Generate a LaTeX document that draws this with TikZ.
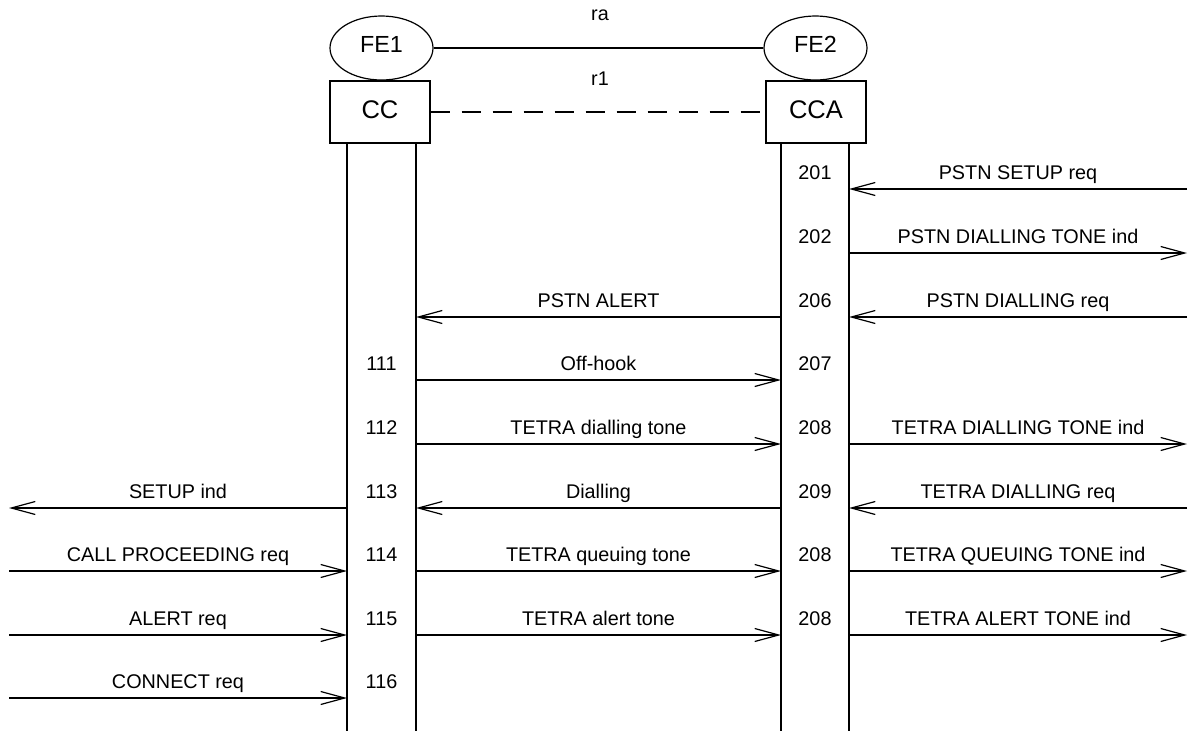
\documentclass[tikz,border=0pt]{standalone}
\usepackage{fontspec}
\setmainfont{Liberation Sans}
\usetikzlibrary{arrows.meta,shapes.geometric}
\begin{document}
\begin{tikzpicture}[x=1pt,y=-1pt,
  line width=1.2pt,
  msg/.style={line width=1.2pt,-{Straight Barb[length=24pt,width=13pt,line width=1.2pt]}},
  lbl/.style={font=\fontsize{19.8}{22}\selectfont, inner sep=0pt, anchor=base},
  fe/.style={draw,ellipse,minimum width=103pt,minimum height=64pt,inner sep=0pt,
     font=\fontsize{23.3}{26}\selectfont,text height=16.6pt,text depth=7.4pt},
  ent/.style={draw,rectangle,minimum width=100pt,minimum height=62pt,inner sep=0pt,
     font=\fontsize{25.5}{28}\selectfont,text height=18.3pt,text depth=5.1pt},
  life/.style={line width=1.2pt},
  rel/.style={line width=1.2pt}]
\useasboundingbox (0,0) rectangle (1195,731);

% entities
\node[fe] (fe1) at (381.5,48) {FE1};
\node[fe] (fe2) at (815.5,48) {FE2};
\node[ent] (cc) at (380,112) {CC};
\node[ent] (cca) at (816,112) {CCA};

\draw[rel] (fe1.east) -- (fe2.west);
\draw[rel,dash pattern=on 19pt off 12pt] (cc.east) -- (cca.west);
\node[lbl] (ra) at (600,20.7) {ra};
\node[lbl] (r1) at (600,85) {r1};

% lifelines
\coordinate (a1) at (347,143);
\coordinate (a2) at (416,143);
\coordinate (b1) at (781,143);
\coordinate (b2) at (849,143);
\coordinate (el) at (9,0);
\coordinate (er) at (1187,0);
\coordinate (bot) at (0,731);
\foreach \l in {a1,a2,b1,b2} \draw[life] (\l) -- (\l |- bot);

% rows
\coordinate (r0) at (0,189);
\coordinate (r1y) at (0,253);
\coordinate (r2) at (0,317);
\coordinate (r3) at (0,380);
\coordinate (r4) at (0,444);
\coordinate (r5) at (0,508);
\coordinate (r6) at (0,571);
\coordinate (r7) at (0,635);
\coordinate (r8) at (0,698);

% row 0
\draw[msg] (er |- r0) -- (b2 |- r0);
\node[lbl] (n201) at (815,179.5) {201};
\node[lbl] (m201) at (1018,179.5) {PSTN SETUP req};
% row 1
\draw[msg] (b2 |- r1y) -- (er |- r1y);
\node[lbl] (n202) at (815,243.5) {202};
\node[lbl] (m202) at (1018,243.5) {PSTN DIALLING TONE ind};
% row 2
\draw[msg] (er |- r2) -- (b2 |- r2);
\draw[msg] (b1 |- r2) -- (a2 |- r2);
\node[lbl] (n206) at (815,307.5) {206};
\node[lbl] (m206) at (1018,307.5) {PSTN DIALLING req};
\node[lbl] (malert) at (598.5,307.5) {PSTN ALERT};
% row 3
\draw[msg] (a2 |- r3) -- (b1 |- r3);
\node[lbl] (n111) at (381.5,370.5) {111};
\node[lbl] (n207) at (815,370.5) {207};
\node[lbl] (moff) at (598.5,370.5) {Off-hook};
% row 4
\draw[msg] (a2 |- r4) -- (b1 |- r4);
\draw[msg] (b2 |- r4) -- (er |- r4);
\node[lbl] (n112) at (381.5,434.5) {112};
\node[lbl] (n208a) at (815,434.5) {208};
\node[lbl] (mtdt) at (598.5,434.5) {TETRA dialling tone};
\node[lbl] (mtdti) at (1018,434.5) {TETRA DIALLING TONE ind};
% row 5
\draw[msg] (a1 |- r5) -- (el |- r5);
\draw[msg] (b1 |- r5) -- (a2 |- r5);
\draw[msg] (er |- r5) -- (b2 |- r5);
\node[lbl] (n113) at (381.5,498.5) {113};
\node[lbl] (n209) at (815,498.5) {209};
\node[lbl] (msetup) at (178,498.5) {SETUP ind};
\node[lbl] (mdial) at (598.5,498.5) {Dialling};
\node[lbl] (mtdr) at (1018,498.5) {TETRA DIALLING req};
% row 6
\draw[msg] (el |- r6) -- (a1 |- r6);
\draw[msg] (a2 |- r6) -- (b1 |- r6);
\draw[msg] (b2 |- r6) -- (er |- r6);
\node[lbl] (n114) at (381.5,561.5) {114};
\node[lbl] (n208b) at (815,561.5) {208};
\node[lbl] (mcp) at (178,561.5) {CALL PROCEEDING req};
\node[lbl] (mtq) at (598.5,561.5) {TETRA queuing tone};
\node[lbl] (mtqi) at (1018,561.5) {TETRA QUEUING TONE ind};
% row 7
\draw[msg] (el |- r7) -- (a1 |- r7);
\draw[msg] (a2 |- r7) -- (b1 |- r7);
\draw[msg] (b2 |- r7) -- (er |- r7);
\node[lbl] (n115) at (381.5,625.5) {115};
\node[lbl] (n208c) at (815,625.5) {208};
\node[lbl] (malr) at (178,625.5) {ALERT req};
\node[lbl] (mta) at (598.5,625.5) {TETRA alert tone};
\node[lbl] (mtai) at (1018,625.5) {TETRA ALERT TONE ind};
% row 8
\draw[msg] (el |- r8) -- (a1 |- r8);
\node[lbl] (n116) at (381.5,688.5) {116};
\node[lbl] (mcon) at (178,688.5) {CONNECT req};
\end{tikzpicture}
\end{document}
